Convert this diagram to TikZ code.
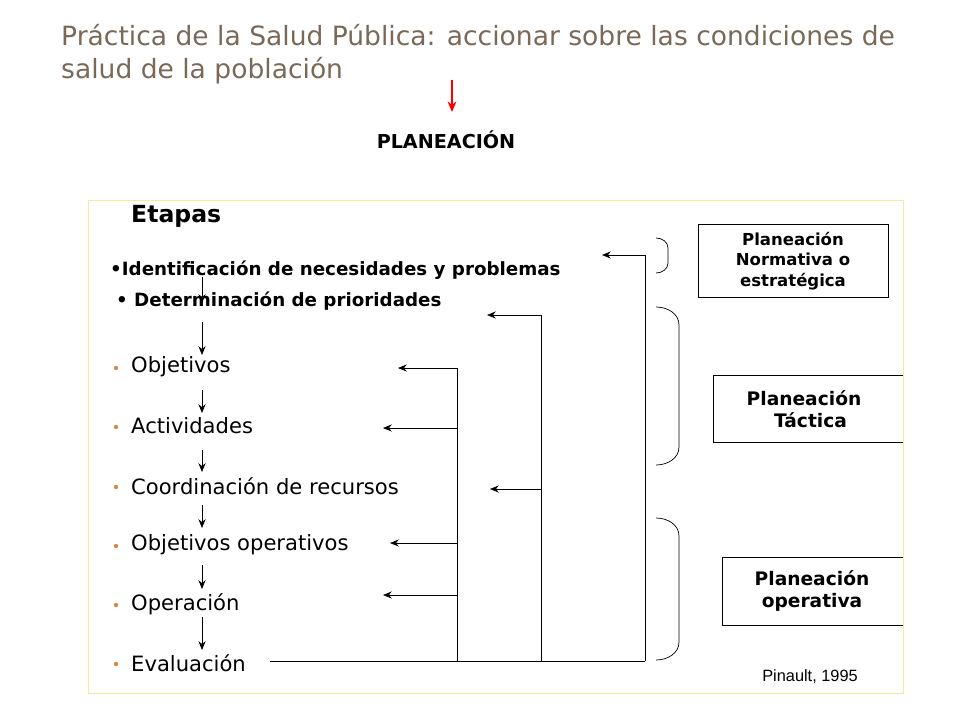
\documentclass[tikz,border=0pt]{standalone}
\usepackage{fontspec}
\setmainfont{DejaVu Sans}
\newfontfamily\arialfont{Liberation Sans}
\usetikzlibrary{arrows.meta}
\definecolor{titlebrown}{HTML}{7A6858}
\definecolor{framey}{HTML}{F5EBA0}
\definecolor{bulletor}{HTML}{D9884A}
\tikzset{
  item/.style={anchor=west, font=\fontsize{12}{14}\selectfont},
  stage/.style={anchor=west, font=\bfseries\fontsize{10.4}{12}\selectfont},
  levelbox/.style={draw, align=center, font=\bfseries\fontsize{9.4}{11.6}\selectfont, inner sep=2pt},
  dot/.style={circle, fill=bulletor, inner sep=0pt, minimum size=2.5pt},
  flow/.style={-{Stealth[length=5pt,width=4pt]}, thin},
  back/.style={-{Stealth[length=5pt,width=4pt]}, thin},
  bracket/.style={draw, thin}
}
\begin{document}
\begin{tikzpicture}[x=0.2mm,y=-0.2mm]
\useasboundingbox (0,0) rectangle (960,720);

% title
\node[anchor=west, text=titlebrown, align=left, font=\fontsize{15.1}{18.5}\selectfont] (title) at (55,54)
  {Práctica de la Salud Pública: accionar sobre las condiciones de\\salud de la población};
\coordinate (redtop) at (452,80);
\node[font=\bfseries\fontsize{10.9}{12}\selectfont] (plan) at (446,140) {PLANEACIÓN};
\draw[-{Stealth[length=6pt,width=5pt]}, red, thick] (redtop) -- (452,112);

% frame
\draw[framey] (88,200) rectangle (903,693);
\node[anchor=west, font=\bfseries\fontsize{13.4}{15}\selectfont] (etapas) at (125,216) {Etapas};

\node[stage] (ident) at (104,270) {•Identificación de necesidades y problemas};
\node[stage] (prior) at (110,301) {• Determinación de prioridades};

\node[item] (obj) at (125,367) {Objetivos};
\node[item] (act) at (125,426) {Actividades};
\node[item] (coord) at (125,486) {Coordinación de recursos};
\node[item] (objop) at (125,545) {Objetivos operativos};
\node[item] (oper) at (125,604) {Operación};
\node[item] (eval) at (125,663) {Evaluación};
\foreach \y in {367,426,486,545,604,663}
  \node[dot] at (116,\y+1) {};

% down flow
\draw[flow] (202,277) -- (202,303);
\draw[flow] (202,322) -- (202,355);
\draw[flow] (202,390) -- (202,413);
\draw[flow] (202,450) -- (202,472);
\draw[flow] (202,505) -- (202,528);
\draw[flow] (202,565) -- (202,589);
\draw[flow] (202,617) -- (202,650);

% feedback lines
\coordinate (base) at (270,661);
\draw (base) -- (645,661);
\draw (457,661) -- (457,368);
\draw (541,661) -- (541,315);
\draw (645,661) -- (645,255);
\draw[back] (457,368) -- (398,368);
\draw[back] (457,428) -- (383,428);
\draw[back] (457,543) -- (390,543);
\draw[back] (457,595) -- (383,595);
\draw[back] (541,315) -- (487,315);
\draw[back] (541,489) -- (490,489);
\draw[back] (645,255) -- (602,255);

% brackets
\draw[bracket] (656,238) to[out=0,in=90] (668,248) -- (668,263) to[out=-90,in=0] (656,273);
\draw[bracket] (656,307) to[out=0,in=90] (679,325) -- (679,447) to[out=-90,in=0] (656,465);
\draw[bracket] (656,518) to[out=0,in=90] (679,536) -- (679,642) to[out=-90,in=0] (656,660);

% planning levels
\node[levelbox, minimum width=38mm, minimum height=14.6mm] (norm) at (793,261)
  {Planeación\\Normativa o\\estratégica};
\draw (903,375) -- (713,375) -- (713,442) -- (903,442);
\node[font=\bfseries\fontsize{10.6}{12.5}\selectfont, align=center] (tact) at (804,409) {Planeación\\\ \ Táctica};
\draw (903,557) -- (722,557) -- (722,625) -- (903,625);
\node[font=\bfseries\fontsize{10.6}{12.5}\selectfont, align=center] (opv) at (812,591) {Planeación\\operativa};

\node[font=\arialfont\fontsize{9.3}{11}\selectfont] (ref) at (810,677) {Pinault, 1995};
\end{tikzpicture}
\end{document}
